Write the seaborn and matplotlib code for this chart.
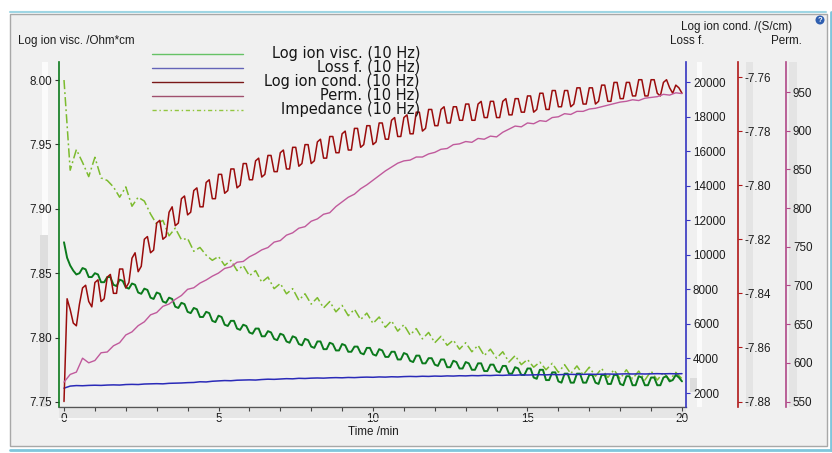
import numpy as np
import pandas as pd
import matplotlib
matplotlib.use("Agg")
import matplotlib.pyplot as plt
import seaborn as sns
from matplotlib.patches import Rectangle, Ellipse
from matplotlib.lines import Line2D

# ---------------- data ----------------
time_fine = np.round(np.arange(0, 20.001, 0.1), 1)     # 0.1-min grid
time_coarse = np.round(np.arange(0, 20.001, 0.2), 1)   # 0.2-min grid

log_ion_visc = [
    7.874, 7.862, 7.856, 7.852, 7.849, 7.850, 7.854, 7.853, 7.847, 7.847,
    7.850, 7.849, 7.843, 7.843, 7.847, 7.847, 7.841, 7.840, 7.845, 7.844,
    7.839, 7.838, 7.842, 7.841, 7.835, 7.834, 7.838, 7.837, 7.831, 7.830,
    7.835, 7.834, 7.828, 7.827, 7.831, 7.830, 7.824, 7.823, 7.827, 7.826,
    7.820, 7.819, 7.823, 7.822, 7.816, 7.816, 7.820, 7.819, 7.813, 7.812,
    7.817, 7.816, 7.810, 7.809, 7.813, 7.813, 7.807, 7.806, 7.810, 7.809,
    7.804, 7.803, 7.807, 7.807, 7.801, 7.801, 7.805, 7.804, 7.799, 7.798,
    7.803, 7.802, 7.797, 7.796, 7.801, 7.800, 7.795, 7.794, 7.799, 7.798,
    7.793, 7.792, 7.797, 7.797, 7.791, 7.791, 7.796, 7.795, 7.790, 7.790,
    7.795, 7.794, 7.789, 7.789, 7.793, 7.793, 7.788, 7.787, 7.792, 7.792,
    7.787, 7.786, 7.791, 7.790, 7.785, 7.785, 7.789, 7.789, 7.783, 7.783,
    7.788, 7.787, 7.782, 7.781, 7.786, 7.786, 7.780, 7.780, 7.784, 7.784,
    7.779, 7.778, 7.783, 7.783, 7.777, 7.777, 7.782, 7.781, 7.776, 7.776,
    7.781, 7.780, 7.775, 7.775, 7.780, 7.780, 7.774, 7.774, 7.779, 7.779,
    7.774, 7.773, 7.778, 7.778, 7.772, 7.772, 7.777, 7.776, 7.771, 7.771,
    7.776, 7.776, 7.769, 7.768, 7.775, 7.775, 7.767, 7.767, 7.773, 7.773,
    7.766, 7.765, 7.772, 7.772, 7.765, 7.765, 7.772, 7.772, 7.765, 7.765,
    7.771, 7.771, 7.765, 7.764, 7.771, 7.771, 7.764, 7.764, 7.771, 7.771,
    7.764, 7.763, 7.770, 7.770, 7.763, 7.763, 7.770, 7.769, 7.763, 7.763,
    7.769, 7.769, 7.763, 7.763, 7.769, 7.770, 7.766, 7.767, 7.771, 7.769,
    7.766]

log_ion_cond = [
    -7.880, -7.842, -7.846, -7.851, -7.852, -7.844, -7.838, -7.837, -7.843, -7.845,
    -7.836, -7.835, -7.843, -7.842, -7.834, -7.833, -7.840, -7.840, -7.831, -7.831,
    -7.838, -7.836, -7.827, -7.825, -7.832, -7.830, -7.820, -7.819, -7.825, -7.824,
    -7.814, -7.813, -7.820, -7.819, -7.810, -7.808, -7.815, -7.814, -7.805, -7.804,
    -7.811, -7.810, -7.802, -7.801, -7.808, -7.808, -7.799, -7.798, -7.805, -7.805,
    -7.796, -7.796, -7.803, -7.802, -7.794, -7.794, -7.801, -7.800, -7.792, -7.792,
    -7.798, -7.798, -7.791, -7.790, -7.797, -7.796, -7.789, -7.789, -7.795, -7.795,
    -7.788, -7.787, -7.794, -7.794, -7.786, -7.786, -7.793, -7.792, -7.785, -7.785,
    -7.792, -7.791, -7.784, -7.783, -7.790, -7.790, -7.782, -7.782, -7.788, -7.788,
    -7.781, -7.780, -7.787, -7.787, -7.779, -7.779, -7.786, -7.785, -7.778, -7.778,
    -7.785, -7.784, -7.777, -7.777, -7.783, -7.783, -7.776, -7.775, -7.782, -7.782,
    -7.775, -7.774, -7.781, -7.781, -7.773, -7.773, -7.780, -7.779, -7.772, -7.772,
    -7.778, -7.778, -7.772, -7.771, -7.777, -7.777, -7.771, -7.771, -7.776, -7.776,
    -7.770, -7.770, -7.776, -7.776, -7.770, -7.769, -7.775, -7.775, -7.769, -7.769,
    -7.775, -7.775, -7.769, -7.768, -7.774, -7.774, -7.768, -7.768, -7.773, -7.773,
    -7.767, -7.767, -7.773, -7.772, -7.766, -7.766, -7.772, -7.772, -7.765, -7.765,
    -7.771, -7.771, -7.765, -7.765, -7.771, -7.770, -7.764, -7.764, -7.770, -7.770,
    -7.764, -7.764, -7.770, -7.769, -7.763, -7.763, -7.769, -7.769, -7.762, -7.762,
    -7.768, -7.768, -7.762, -7.762, -7.767, -7.767, -7.761, -7.761, -7.767, -7.767,
    -7.761, -7.761, -7.766, -7.767, -7.762, -7.761, -7.764, -7.766, -7.763, -7.764,
    -7.766]

impedance = [
    8.000, 7.930, 7.946, 7.936, 7.925, 7.940, 7.924, 7.922, 7.917, 7.909,
    7.917, 7.902, 7.909, 7.906, 7.896, 7.888, 7.891, 7.879, 7.885, 7.876,
    7.877, 7.867, 7.870, 7.864, 7.860, 7.863, 7.856, 7.860, 7.852, 7.856,
    7.848, 7.852, 7.843, 7.847, 7.838, 7.842, 7.834, 7.838, 7.829, 7.834,
    7.826, 7.831, 7.823, 7.828, 7.820, 7.825, 7.817, 7.822, 7.814, 7.819,
    7.811, 7.816, 7.808, 7.813, 7.805, 7.810, 7.802, 7.807, 7.799, 7.804,
    7.796, 7.801, 7.794, 7.798, 7.791, 7.796, 7.789, 7.794, 7.786, 7.791,
    7.784, 7.789, 7.781, 7.786, 7.779, 7.783, 7.777, 7.781, 7.775, 7.780,
    7.773, 7.779, 7.772, 7.778, 7.771, 7.777, 7.770, 7.776, 7.769, 7.775,
    7.768, 7.775, 7.768, 7.774, 7.767, 7.774, 7.767, 7.773, 7.767, 7.773,
    7.768]

permittivity = [
    575, 585, 588, 606, 600, 603, 613, 614, 622, 626,
    636, 640, 648, 653, 662, 665, 673, 676, 682, 687,
    695, 697, 703, 707, 712, 716, 722, 724, 730, 731,
    737, 741, 746, 749, 756, 758, 765, 768, 774, 776,
    783, 786, 792, 794, 802, 808, 814, 818, 825, 830,
    836, 842, 848, 853, 858, 861, 862, 866, 866, 870,
    872, 876, 877, 882, 883, 886, 885, 890, 889, 893,
    892, 898, 902, 906, 905, 910, 909, 913, 912, 917,
    918, 922, 921, 925, 925, 928, 929, 931, 933, 935,
    937, 938, 940, 939, 942, 943, 944, 947, 946, 949,
    948]

loss_factor = [
    2280, 2400, 2430, 2420, 2440, 2450, 2440, 2460, 2470, 2460,
    2490, 2500, 2490, 2520, 2530, 2540, 2530, 2560, 2570, 2580,
    2600, 2610, 2650, 2640, 2680, 2700, 2720, 2710, 2740, 2750,
    2760, 2750, 2780, 2800, 2790, 2810, 2830, 2820, 2850, 2840,
    2860, 2870, 2860, 2880, 2890, 2880, 2900, 2890, 2910, 2920,
    2910, 2930, 2920, 2940, 2930, 2950, 2960, 2950, 2970, 2960,
    2980, 2970, 2990, 2980, 3000, 2990, 3010, 3000, 3020, 3010,
    3030, 3020, 3040, 3030, 3050, 3040, 3050, 3060, 3050, 3070,
    3060, 3070, 3080, 3070, 3080, 3090, 3080, 3090, 3100, 3090,
    3100, 3110, 3100, 3110, 3100, 3110, 3120, 3110, 3120, 3110,
    3120]

legend_labels = ["Log ion visc. (10 Hz)", "Loss f. (10 Hz)", "Log ion cond. (10 Hz)",
                 "Perm. (10 Hz)", "Impedance (10 Hz)"]

df_fine = pd.DataFrame({"t": time_fine, "visc": log_ion_visc, "cond": log_ion_cond})
df_coarse = pd.DataFrame({"t": time_coarse, "imp": impedance, "perm": permittivity,
                          "loss": loss_factor})

# ---------------- style ----------------
sns.set_theme(style="white")
plt.rcParams["font.family"] = ["Liberation Sans", "DejaVu Sans"]
plt.rcParams["axes.unicode_minus"] = False

W, H = 832, 453
fig = plt.figure(figsize=(W / 100, H / 100), dpi=100, facecolor="white")


def fx(px):
    return px / W


def fy(py):
    return 1 - py / H


def frect(x0, y0, x1, y1, **kw):
    fig.patches.append(Rectangle((fx(x0), fy(y1)), fx(x1) - fx(x0), fy(y0) - fy(y1),
                                 transform=fig.transFigure, **kw))


# window frame / panel
frect(10, 14, 827, 446, facecolor="#f0f0f0", edgecolor="#a8a8a8", lw=1.0, zorder=0)
fig.lines.append(Line2D([fx(10), fx(826)], [fy(11.5), fy(11.5)], transform=fig.transFigure,
                        color="#9fd6e4", lw=1.5))
fig.lines.append(Line2D([fx(10), fx(832)], [fy(449.5), fy(449.5)], transform=fig.transFigure,
                        color="#7fc6dc", lw=2.0))
fig.lines.append(Line2D([fx(830.5), fx(830.5)], [fy(12), fy(450)], transform=fig.transFigure,
                        color="#7fc6dc", lw=2.0))
# scroll-strip decorations beside the axes
frect(42, 62, 48, 407, facecolor="#fbfbfb", edgecolor="none", zorder=0.5)
frect(40, 235, 48, 407, facecolor="#dedede", edgecolor="none", zorder=0.6)
frect(697, 62, 702, 407, facecolor="#fbfbfb", edgecolor="none", zorder=0.5)
frect(690, 378, 697, 392, facecolor="#dcdcdc", edgecolor="none", zorder=0.6)
frect(746, 62, 753, 407, facecolor="#e4e4e4", edgecolor="none", zorder=0.5)
frect(789, 62, 797, 407, facecolor="#e4e4e4", edgecolor="none", zorder=0.5)
frect(59, 409, 686, 418, facecolor="#e6e6e6", edgecolor="none", zorder=0.5)
fig.lines.append(Line2D([fx(59), fx(686)], [fy(419), fy(419)], transform=fig.transFigure,
                        color="#fbfbfb", lw=1.2))

# ---------------- axes ----------------
ax = fig.add_axes([fx(59), fy(407), fx(686) - fx(59), fy(62) - fy(407)])
ax.set_facecolor("#f0f0f0")
ax_loss = ax.twinx()
ax_cond = ax.twinx()
ax_perm = ax.twinx()

c_visc, c_imp = "#0b7a1c", "#7cbb2e"
c_loss, c_cond, c_perm = "#2a2ab8", "#9a0c0c", "#c05a9c"
sp_loss, sp_cond, sp_perm = "#3434c0", "#b01818", "#b04888"

sns.lineplot(data=df_coarse, x="t", y="perm", ax=ax_perm, color=c_perm, lw=1.0, legend=False)
sns.lineplot(data=df_fine, x="t", y="cond", ax=ax_cond, color=c_cond, lw=1.1, legend=False)
sns.lineplot(data=df_coarse, x="t", y="loss", ax=ax_loss, color=c_loss, lw=1.1, legend=False)
sns.lineplot(data=df_coarse, x="t", y="imp", ax=ax, color=c_imp, lw=1.1,
             linestyle=(0, (6, 2, 1.2, 2)), legend=False)
sns.lineplot(data=df_fine, x="t", y="visc", ax=ax, color=c_visc, lw=1.4, legend=False)

ax.set_zorder(1)
for a in (ax_loss, ax_cond, ax_perm):
    a.set_zorder(2)
    a.patch.set_visible(False)

ax.set_xlim(-0.162, 20.13)
ax.set_ylim(7.7461, 8.014)
ax_loss.set_ylim(1190, 21158)
ax_cond.set_ylim(-7.88203, -7.75445)
ax_perm.set_ylim(542.9, 988.8)

left_ticks = [7.75, 7.80, 7.85, 7.90, 7.95, 8.00]
ax.set_yticks(left_ticks)
ax.set_yticklabels([f"{v:.2f}" for v in left_ticks])
ax.set_xticks(np.arange(0, 21, 1))
ax.set_xticklabels([str(int(v)) if v % 5 == 0 else "" for v in np.arange(0, 21, 1)])
loss_ticks = np.arange(2000, 20001, 2000)
ax_loss.set_yticks(loss_ticks)
ax_loss.set_yticklabels([str(int(v)) for v in loss_ticks])
cond_ticks = [-7.88, -7.86, -7.84, -7.82, -7.80, -7.78, -7.76]
ax_cond.set_yticks(cond_ticks)
ax_cond.set_yticklabels([f"{v:.2f}" for v in cond_ticks])
perm_ticks = np.arange(550, 951, 50)
ax_perm.set_yticks(perm_ticks)
ax_perm.set_yticklabels([str(int(v)) for v in perm_ticks])

for a in (ax, ax_loss, ax_cond, ax_perm):
    a.set_xlabel("")
    a.set_ylabel("")
    a.grid(False)
    for s in a.spines.values():
        s.set_visible(False)

tick_font = 8.4
txt_col = "#1e1e1e"
ax.spines["left"].set_visible(True)
ax.spines["left"].set_color(c_visc)
ax.spines["left"].set_linewidth(1.2)
ax.spines["bottom"].set_visible(True)
ax.spines["bottom"].set_color("#555555")
ax.spines["bottom"].set_linewidth(1.0)
ax.tick_params(axis="y", which="both", left=True, right=False, direction="out", length=3,
               width=0.8, color="#333333", labelsize=tick_font, labelcolor=txt_col, pad=2)
ax.tick_params(axis="x", which="both", bottom=True, top=False, direction="out", length=3,
               width=0.8, color="#444444", labelsize=tick_font, labelcolor=txt_col, pad=1.5)

for a, col, pos in ((ax_loss, sp_loss, 1.0),
                    (ax_cond, sp_cond, (738 - 59) / 627),
                    (ax_perm, sp_perm, (786 - 59) / 627)):
    a.spines["right"].set_visible(True)
    a.spines["right"].set_position(("axes", pos))
    a.spines["right"].set_color(col)
    a.spines["right"].set_linewidth(1.2)
    a.tick_params(axis="y", which="both", right=True, left=False, labelright=True,
                  labelleft=False, direction="out", length=3, width=0.8, color=col,
                  labelsize=tick_font, labelcolor=txt_col, pad=2)
    a.tick_params(axis="x", bottom=False, top=False, labelbottom=False)

# ---------------- texts ----------------
fs = 8.4
fig.text(fx(18), fy(41), "Log ion visc. /Ohm*cm", fontsize=fs, color=txt_col,
         ha="left", va="center")
fig.text(fx(792), fy(27), "Log ion cond. /(S/cm)", fontsize=fs, color=txt_col,
         ha="right", va="center")
fig.text(fx(687), fy(41.5), "Loss f.", fontsize=fs, color=txt_col, ha="center", va="center")
fig.text(fx(786), fy(41.5), "Perm.", fontsize=fs, color=txt_col, ha="center", va="center")
fig.text(fx(373), fy(432), "Time /min", fontsize=fs, color=txt_col, ha="center", va="center")

# help icon
fig.patches.append(Ellipse((fx(820), fy(20)), 9 / W, 9 / H, transform=fig.transFigure,
                           facecolor="#2f5fb0", edgecolor="none", zorder=3))
fig.text(fx(820), fy(20.5), "?", fontsize=5.5, color="white", ha="center", va="center",
         fontweight="bold")

# legend (custom layout: line samples on the left, right-aligned labels)
leg_colors = ["#66c266", "#6464b8", "#7a1818", "#a0506e", "#92c640"]
leg_styles = ["-", "-", "-", "-", (0, (3, 2, 1, 2))]
row_y = [53.5, 67.5, 81.5, 95.5, 109.5]
for lab, col, ls, yy in zip(legend_labels, leg_colors, leg_styles, row_y):
    fig.lines.append(Line2D([fx(152), fx(243)], [fy(yy), fy(yy)], transform=fig.transFigure,
                            color=col, lw=1.0, linestyle=ls, zorder=4))
    fig.text(fx(420), fy(yy), lab, fontsize=10.5, color="#151515", ha="right", va="center",
             family=["DejaVu Sans"], zorder=4)

fig.savefig("out.png", dpi=100, facecolor=fig.get_facecolor())
